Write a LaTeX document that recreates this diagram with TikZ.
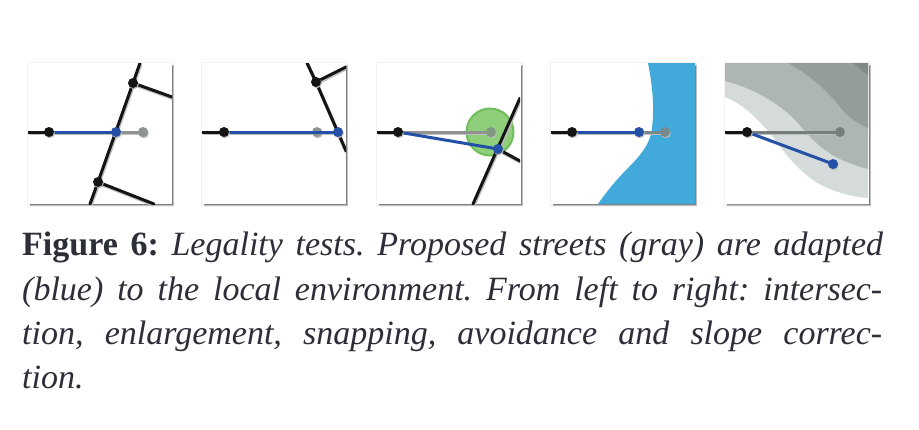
\documentclass[tikz,border=0pt]{standalone}
\usepackage{fontspec}
\setmainfont{Liberation Serif}
\usetikzlibrary{calc}
\definecolor{roadblue}{HTML}{2450A8}
\definecolor{water}{HTML}{42A9DB}
\definecolor{txtc}{HTML}{2C2E38}
\definecolor{propgray}{HTML}{8F9391}
\definecolor{zonea}{HTML}{D5DBDB}
\definecolor{zoneb}{HTML}{AEB6B4}
\definecolor{zonec}{HTML}{939D9B}
\definecolor{zoned}{HTML}{7F8A88}
\definecolor{snapfill}{HTML}{8FCF7B}
\definecolor{snapedge}{HTML}{6EBF5C}
\definecolor{overwater}{HTML}{748A8D}
\definecolor{overzone}{HTML}{75807E}
\definecolor{oversnap}{HTML}{7F9A80}
\tikzset{
  dropline/.style={preaction={draw,line width=3.4pt,color=black!25,transform canvas={shift={(.8pt,-1.4pt)}}}},
  dropdot/.style={preaction={fill,fill=black!28,transform canvas={shift={(.8pt,-1.2pt)}}}},
  panelbox/.style={fill=white,draw=none},
  road/.style={line width=3pt,color=black!92,line cap=round,line join=round,dropline},
  proposed/.style={line width=3pt,color=propgray,dropline},
  adapted/.style={line width=3pt,color=roadblue},
  blackdot/.style={circle,fill=black!92,inner sep=0pt,minimum size=10pt,draw=none,dropdot},
  bluedot/.style={circle,fill=roadblue,inner sep=0pt,minimum size=10pt,draw=none,dropdot},
  graydot/.style={circle,fill=propgray,inner sep=0pt,minimum size=10pt,draw=none,dropdot},
  capline/.style={anchor=base west,inner sep=0pt,text=txtc,font=\fontsize{34}{40}\selectfont\frenchspacing},
}
\newcommand{\panelbg}[2]{%
  \fill[black!5] (#1-1,#2-1) rectangle (#1+146,207);
  \fill[black!25] (#1+2,#2+2) rectangle (#1+146,206);
  \fill[black!50] (#1+2,#2+3) rectangle (#1+145,205.2);
  \fill[panelbox] (#1,#2) rectangle (#1+144,204);
}
\begin{document}
\begin{tikzpicture}[x=1pt,y=-1pt]
\useasboundingbox (0,0) rectangle (919,429);
\fill[white] (0,0) rectangle (919,429);

% Panel 1
\panelbg{28}{63}
\begin{scope}
\clip (28,63) rectangle (172,204);
\coordinate (a1) at (140,63);
\coordinate (a2) at (133,83);
\coordinate (a4) at (98,182);
\coordinate (a5) at (90,204);
\coordinate (a6) at (172,97);
\coordinate (a7) at (154,204);
\coordinate (a0) at (28,132);
\coordinate (as) at (49,132);
\coordinate (ag) at (143,132);
\coordinate (ab) at (116,132);
\draw[road] (a1) -- (a2) -- (a4) -- (a5);
\draw[road] (a2) -- (a6);
\draw[road] (a4) -- (a7);
\draw[road] (a0) -- (as);
\draw[proposed] (as) -- (ag);
\draw[adapted] (as) -- (ab);
\node[graydot] (n1) at (ag) {};
\node[blackdot] (n2) at (as) {};
\node[blackdot] (n3) at (a2) {};
\node[blackdot] (n4) at (a4) {};
\node[bluedot] (n5) at (ab) {};
\end{scope}

% Panel 2
\panelbg{202}{63}
\begin{scope}
\clip (202,63) rectangle (346,204);
\coordinate (b1) at (307,63);
\coordinate (b2) at (316,82);
\coordinate (b3) at (346,151);
\coordinate (b4) at (346,67);
\coordinate (b0) at (202,132);
\coordinate (bs) at (224,132);
\coordinate (bg) at (317,132);
\coordinate (bb) at (338,132);
\draw[road] (b1) -- (b2) -- (b3);
\draw[road] (b2) -- (b4);
\draw[road] (b0) -- (bs);
\draw[proposed] (bs) -- (bb);
\node[graydot] (m1) at (bg) {};
\draw[adapted] (bs) -- (bb);
\node[blackdot] (m2) at (bs) {};
\node[blackdot] (m3) at (b2) {};
\node[bluedot] (m4) at (bb) {};
\end{scope}

% Panel 3
\panelbg{377}{63}
\begin{scope}
\clip (377,63) rectangle (520,204);
\node[circle,minimum size=47pt,inner sep=0pt,fill=snapfill,draw=snapedge,line width=2pt] (c9) at (490,132) {};
\coordinate (c1) at (473,204);
\coordinate (c2) at (520,98);
\coordinate (c3) at (520,161);
\coordinate (cb) at (498,149);
\coordinate (c0) at (377,132);
\coordinate (cs) at (398,132);
\coordinate (cg) at (491,132);
\draw[road] (c1) -- (c2);
\draw[road] (cb) -- (c3);
\draw[road] (c0) -- (cs);
\draw[proposed] (cs) -- (cg);
\draw[adapted] (cs) -- (cb);
\node[graydot,fill=oversnap] (k1) at (cg) {};
\node[blackdot] (k2) at (cs) {};
\node[bluedot] (k3) at (cb) {};
\end{scope}

% Panel 4
\panelbg{551}{63}
\begin{scope}
\clip (551,63) rectangle (695,204);
\fill[water] (648,63) .. controls (651,78) and (654,100) .. (653,117)
  .. controls (652,128) and (652,134) .. (649,140)
  .. controls (645,150) and (637,159) .. (628,168)
  .. controls (617,179) and (607,191) .. (598,204)
  -- (695,204) -- (695,63) -- cycle;
\coordinate (d0) at (551,132);
\coordinate (ds) at (572,132);
\coordinate (dg) at (665,132);
\coordinate (db) at (639,132);
\draw[road] (d0) -- (ds);
\draw[proposed,color=overwater] (ds) -- (dg);
\draw[adapted] (ds) -- (db);
\node[graydot,fill=overwater] (j1) at (dg) {};
\node[blackdot] (j2) at (ds) {};
\node[bluedot] (j3) at (db) {};
\end{scope}

% Panel 5
\panelbg{725}{63}
\begin{scope}
\clip (725,63) rectangle (868,204);
\fill[zonea] (725,63) rectangle (868,204);
\fill[white] (725,97) .. controls (745,105) and (760,122) .. (773,137)
  .. controls (785,155) and (805,178) .. (823,186)
  .. controls (838,193) and (852,197) .. (868,198)
  -- (868,204) -- (725,204) -- cycle;
\fill[zoneb] (725,81) .. controls (750,87) and (780,103) .. (797,122)
  .. controls (812,139) and (825,158) .. (868,169)
  -- (868,63) -- (725,63) -- cycle;
\fill[zonec] (788,63) .. controls (805,72) and (825,88) .. (840,107)
  .. controls (848,117) and (858,124) .. (868,128)
  -- (868,63) -- cycle;
\fill[zoned] (853,63) .. controls (858,67) and (863,72) .. (868,75)
  -- (868,63) -- cycle;
\coordinate (e0) at (725,132);
\coordinate (es) at (747,132);
\coordinate (eg) at (840,132);
\coordinate (eb) at (833,164);
\draw[road] (e0) -- (es);
\draw[proposed,color=overzone] (es) -- (eg);
\draw[adapted] (es) -- (eb);
\node[graydot,fill=overzone] (h1) at (eg) {};
\node[blackdot] (h2) at (es) {};
\node[bluedot] (h3) at (eb) {};
\end{scope}

% Caption
\node[capline] (l1) at (22,255) {\hbox to 861pt{\textbf{Figure 6:} \textit{Legality tests. Proposed streets (gray) are adapted}}};
\node[capline] (l2) at (22,300) {\hbox to 860pt{\itshape (blue) to the local environment. From left to right: intersec-}};
\node[capline] (l3) at (22,344) {\hbox to 860pt{\itshape tion, enlargement, snapping, avoidance and slope correc-}};
\node[capline] (l4) at (22,388) {\hbox{\itshape tion.}};
\end{tikzpicture}
\end{document}
